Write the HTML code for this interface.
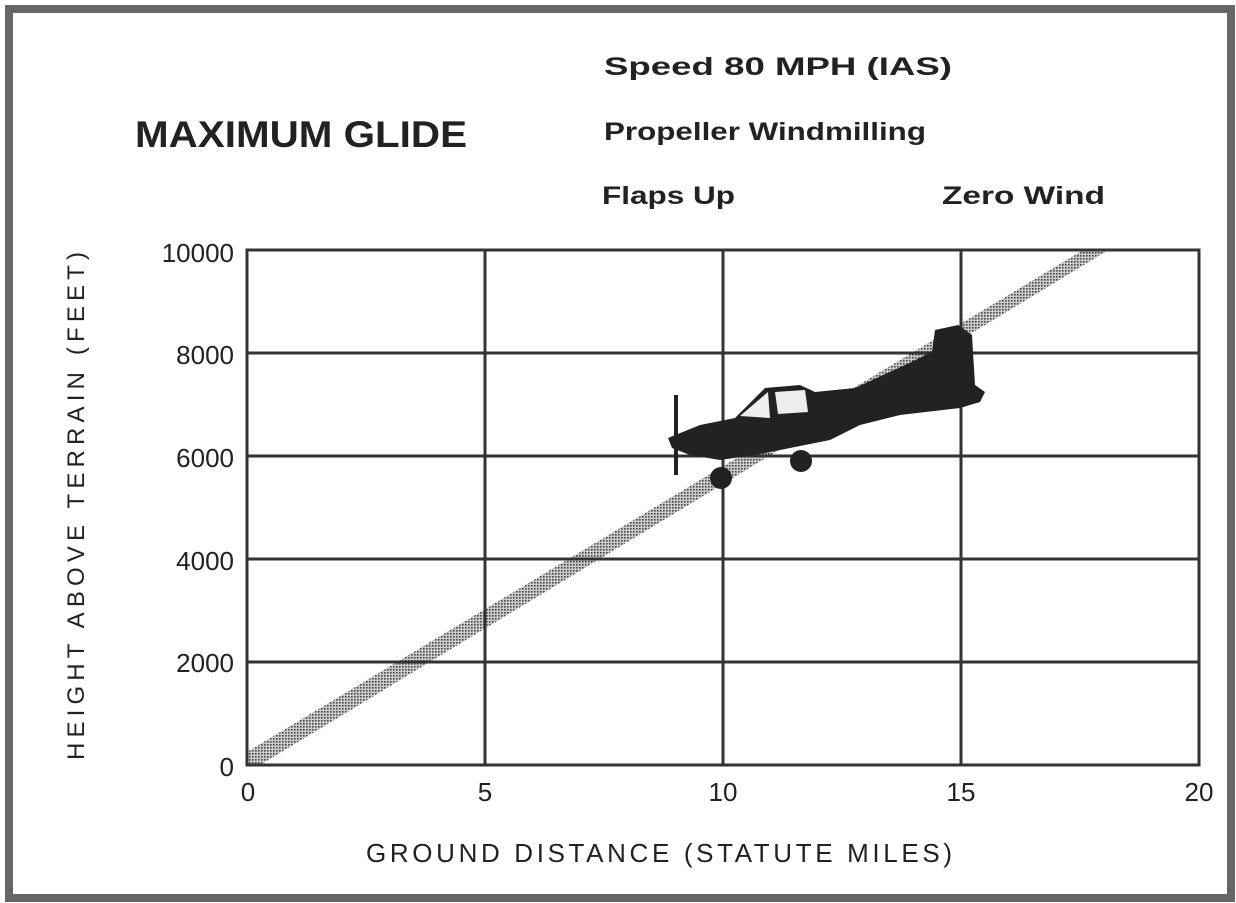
<!DOCTYPE html>
<html><head><meta charset="utf-8"><style>
html,body{margin:0;padding:0;background:#fff;}
svg{display:block;}
text{font-family:"Liberation Sans",sans-serif;fill:#222;}
</style></head><body>
<svg width="1236" height="903" viewBox="0 0 1236 903" xmlns="http://www.w3.org/2000/svg">
<defs>
<pattern id="dots" width="3" height="3" patternUnits="userSpaceOnUse">
<rect width="3" height="3" fill="#ccc"/><rect width="1.6" height="1.6" fill="#444"/>
</pattern>
</defs>
<rect x="0" y="0" width="1236" height="903" fill="#fff"/>
<rect x="9" y="9" width="1222" height="889" fill="none" stroke="#666" stroke-width="8"/>
<text x="135" y="147" font-size="37" font-weight="bold" fill="#333" textLength="332" lengthAdjust="spacingAndGlyphs">MAXIMUM GLIDE</text>
<text x="604" y="75" font-size="25" font-weight="bold" textLength="348" lengthAdjust="spacingAndGlyphs">Speed  80 MPH  (IAS)</text>
<text x="604" y="140" font-size="25" font-weight="bold" textLength="322" lengthAdjust="spacingAndGlyphs">Propeller  Windmilling</text>
<text x="602" y="204" font-size="25" font-weight="bold" textLength="133" lengthAdjust="spacingAndGlyphs">Flaps Up</text>
<text x="942" y="204" font-size="25" font-weight="bold" textLength="163" lengthAdjust="spacingAndGlyphs">Zero Wind</text>
<!-- band -->
<polygon points="247,752 1085,249 1110,249 260,765 247,765" fill="url(#dots)"/>
<!-- grid -->
<g stroke="#333" stroke-width="3" fill="none">
<rect x="247" y="250" width="952" height="515"/>
<line x1="485" y1="250" x2="485" y2="765"/>
<line x1="723" y1="250" x2="723" y2="765"/>
<line x1="961" y1="250" x2="961" y2="765"/>
<line x1="247" y1="353" x2="1199" y2="353"/>
<line x1="247" y1="456" x2="1199" y2="456"/>
<line x1="247" y1="559" x2="1199" y2="559"/>
<line x1="247" y1="662" x2="1199" y2="662"/>
</g>
<!-- airplane -->
<g fill="#222">
<path d="M668,438 L700,425 L735,418 L765,388 L800,385 L815,392 L855,388 L905,365 L932,352 L935,330 L958,325 L972,335 L975,385 L985,392 L980,402 L960,408 L900,415 L860,425 L830,440 L790,448 L755,455 L720,460 L690,455 L672,448 Z"/>
<rect x="674" y="395" width="4" height="80"/>
<circle cx="721" cy="478" r="11"/>
<circle cx="801" cy="461" r="11"/>
</g>
<path d="M740,416 L768,392 L770,418 Z M775,392 L805,390 L808,412 L778,414 Z" fill="#eee"/>
<!-- tick labels -->
<g font-size="26" text-anchor="end">
<text x="234" y="262">10000</text>
<text x="234" y="364">8000</text>
<text x="234" y="467">6000</text>
<text x="234" y="570">4000</text>
<text x="234" y="672">2000</text>
<text x="234" y="776">0</text>
</g>
<g font-size="26" text-anchor="middle">
<text x="248" y="801">0</text>
<text x="485" y="801">5</text>
<text x="723" y="801">10</text>
<text x="961" y="801">15</text>
<text x="1199" y="801">20</text>
</g>
<text x="366" y="862" font-size="26" textLength="586" lengthAdjust="spacing">GROUND DISTANCE (STATUTE MILES)</text>
<text transform="translate(84,760) rotate(-90)" font-size="24" textLength="508" lengthAdjust="spacing">HEIGHT ABOVE TERRAIN (FEET)</text>
</svg>
</body></html>
